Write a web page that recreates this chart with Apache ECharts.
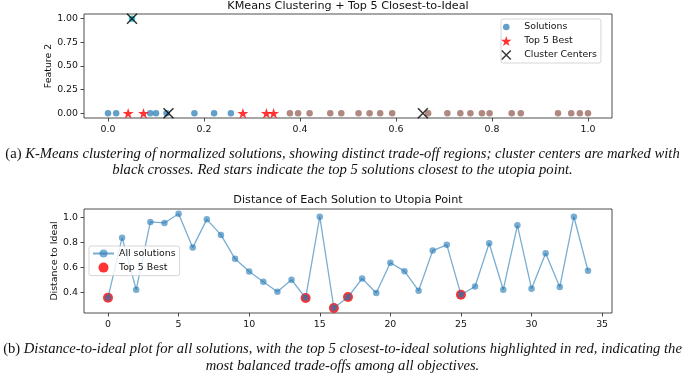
<!DOCTYPE html>
<html><head><meta charset="utf-8">
<script src="https://cdn.jsdelivr.net/npm/echarts@6/dist/echarts.min.js"></script>
<style>html,body{margin:0;padding:0;background:#fff}#c{width:685px;height:379px}</style>
</head><body><div id="c"></div>
<script>
// ---- Data ----
const cluster0X = [0.0, 0.017, 0.088, 0.10, 0.122, 0.18, 0.221, 0.256];
const cluster1X = [0.379, 0.396, 0.42, 0.463, 0.486, 0.522, 0.545, 0.567, 0.592, 0.667, 0.707, 0.734, 0.755, 0.779, 0.795, 0.841, 0.86, 0.9375, 0.965, 0.983, 1.0];
const cluster2Pts = [[0.05, 1.0]];
const top5X = [0.042, 0.074, 0.281, 0.33, 0.345];
const centerPts = [[0.05, 1.0], [0.126, 0.0], [0.656, 0.0]];

const distances = [0.358, 0.84, 0.422, 0.966, 0.958, 1.032, 0.76, 0.987, 0.862, 0.67,
  0.568, 0.486, 0.406, 0.502, 0.355, 1.008, 0.275, 0.363, 0.512, 0.395,
  0.638, 0.571, 0.414, 0.736, 0.782, 0.382, 0.448, 0.795, 0.422, 0.939,
  0.43, 0.715, 0.443, 1.008, 0.574];
const top5Idx = [0, 14, 16, 17, 25];

const topXTicks = [0, 0.2, 0.4, 0.6, 0.8, 1.0];
const topYTicks = [0, 0.25, 0.5, 0.75, 1.0];
const botXTicks = [0, 5, 10, 15, 20, 25, 30, 35];
const botYTicks = [0.4, 0.6, 0.8, 1.0];

const titleTop = 'KMeans Clustering + Top 5 Closest-to-Ideal';
const titleBot = 'Distance of Each Solution to Utopia Point';
const capA1 = ['(a) ', 'K-Means clustering of normalized solutions, showing distinct trade-off regions; cluster centers are marked with'];
const capA2 = 'black crosses. Red stars indicate the top 5 solutions closest to the utopia point.';
const capB1 = ['(b) ', 'Distance-to-ideal plot for all solutions, with the top 5 closest-to-ideal solutions highlighted in red, indicating the'];
const capB2 = 'most balanced trade-offs among all objectives.';

// ---- Styling ----
const SANS = 'DejaVu Sans';
const SERIF = 'Liberation Serif';
const FS = 9.4;
const starPath = 'path://M50,0 L61.23,34.55 L97.55,34.55 L68.16,55.9 L79.39,90.45 L50,69.1 L20.61,90.45 L31.84,55.9 L2.45,34.55 L38.77,34.55 Z';
const xPath = 'path://M0,1 L1,0 L10,9 L9,10 Z M9,0 L10,1 L1,10 L0,9 Z';
const smallCircle = 'path://M0,0 L0.01,0 L0.01,0.01 Z M12,12 L11.99,12 L11.99,11.99 Z M2,6 A4,4 0 1,1 10,6 A4,4 0 1,1 2,6 Z';

function fitSize(parts, target) {
  const ctx = document.createElement('canvas').getContext('2d');
  let w = 0;
  parts.forEach(p => { ctx.font = (p.it ? 'italic ' : '') + '100px "' + SERIF + '"'; w += ctx.measureText(p.t).width; });
  return 100 * target / w;
}
const fsA = fitSize([{t: capA1[0]}, {t: capA1[1], it: true}], 675);
const fsB = fitSize([{t: capB1[0]}, {t: capB1[1], it: true}], 679);

function axisCommon(ticks, fmt, margin) {
  return {
    type: 'value',
    axisLine: {show: false, onZero: false},
    splitLine: {show: false},
    axisTick: {show: true, inside: false, length: 3.5, customValues: ticks, lineStyle: {color: '#222', width: 0.8}},
    axisLabel: {customValues: ticks, formatter: fmt, fontFamily: SANS, fontSize: FS, color: '#111', margin: margin}
  };
}

const chart = echarts.init(document.getElementById('c'));
const nameStyle = {fontFamily: SANS, fontSize: FS, color: '#111'};

chart.setOption({
  animation: false,
  backgroundColor: '#fff',
  title: [
    {text: titleTop, left: 348, top: 1, textAlign: 'center', padding: 0,
     textStyle: {fontFamily: SANS, fontSize: 11.2, fontWeight: 'normal', color: '#111'}},
    {text: titleBot, left: 348, top: 195, textAlign: 'center', padding: 0,
     textStyle: {fontFamily: SANS, fontSize: 11.2, fontWeight: 'normal', color: '#111'}}
  ],
  grid: [
    {left: 84, top: 14, width: 528, height: 104, show: true, borderColor: '#222', borderWidth: 0.8, backgroundColor: 'transparent', outerBoundsMode: 'none'},
    {left: 84, top: 209, width: 528, height: 104, show: true, borderColor: '#222', borderWidth: 0.8, backgroundColor: 'transparent', outerBoundsMode: 'none'}
  ],
  xAxis: [
    Object.assign(axisCommon(topXTicks, v => v.toFixed(1), 7), {gridIndex: 0, position: 'bottom', min: -0.05, max: 1.05}),
    Object.assign(axisCommon(botXTicks, v => String(v), 7), {gridIndex: 1, position: 'bottom', min: -1.7, max: 35.7})
  ],
  yAxis: [
    Object.assign(axisCommon(topYTicks, v => v.toFixed(2), 6), {gridIndex: 0, position: 'left', min: -0.05, max: 1.05,
      name: 'Feature 2', nameLocation: 'middle', nameGap: 31, nameMoveOverlap: false, nameTextStyle: nameStyle}),
    Object.assign(axisCommon(botYTicks, v => v.toFixed(1), 6), {gridIndex: 1, position: 'left', min: 0.235, max: 1.07,
      name: 'Distance to Ideal', nameLocation: 'middle', nameGap: 25, nameMoveOverlap: false, nameTextStyle: nameStyle})
  ],
  legend: [
    {orient: 'vertical', left: 501, top: 19, itemWidth: 26, itemHeight: 10, itemGap: 4,
     padding: [3, 4, 3, 0], borderColor: '#ccc', borderWidth: 0.8, borderRadius: 2, selectedMode: false,
     backgroundColor: 'rgba(255,255,255,0.8)',
     textStyle: {fontFamily: SANS, fontSize: FS, color: '#111'},
     data: [{name: 'Solutions', icon: smallCircle}, {name: 'Top 5 Best', icon: starPath}, {name: 'Cluster Centers', icon: xPath}]},
    {orient: 'vertical', left: 89, top: 246, itemWidth: 21, itemHeight: 10, itemGap: 4.6,
     padding: [3, 4, 3, 3], borderColor: '#ccc', borderWidth: 0.8, borderRadius: 2, selectedMode: false,
     backgroundColor: 'rgba(255,255,255,0.8)',
     textStyle: {fontFamily: SANS, fontSize: FS, color: '#111'},
     data: [{name: 'All solutions'}, {name: 'Top 5 Best ', icon: 'circle'}]}
  ],
  series: [
    {name: 'Solutions', type: 'scatter', xAxisIndex: 0, yAxisIndex: 0, symbol: 'circle', symbolSize: 6.5,
     itemStyle: {color: '#1f77b4', opacity: 0.7}, data: cluster0X.map(x => [x, 0])},
    {name: 'cluster1', type: 'scatter', xAxisIndex: 0, yAxisIndex: 0, symbol: 'circle', symbolSize: 6.5,
     itemStyle: {color: '#8c564b', opacity: 0.7}, data: cluster1X.map(x => [x, 0])},
    {name: 'cluster2', type: 'scatter', xAxisIndex: 0, yAxisIndex: 0, symbol: 'circle', symbolSize: 6.5,
     itemStyle: {color: '#17becf', opacity: 0.8}, data: cluster2Pts},
    {name: 'Top 5 Best', type: 'scatter', xAxisIndex: 0, yAxisIndex: 0, symbol: starPath, symbolSize: [11, 10.5],
     itemStyle: {color: '#ff0000'}, data: top5X.map(x => [x, 0])},
    {name: 'Cluster Centers', type: 'scatter', xAxisIndex: 0, yAxisIndex: 0, symbol: xPath, symbolSize: 11,
     itemStyle: {color: '#000'}, data: centerPts},
    {name: 'Top 5 Best ', type: 'scatter', xAxisIndex: 1, yAxisIndex: 1, symbol: 'circle', symbolSize: 10,
     itemStyle: {color: '#ff0000'}, data: top5Idx.map(i => [i, distances[i]])},
    {name: 'All solutions', type: 'line', xAxisIndex: 1, yAxisIndex: 1, symbol: 'circle', symbolSize: 6.5, showSymbol: true,
     itemStyle: {color: '#1f77b4', opacity: 0.6}, lineStyle: {color: '#1f77b4', width: 1.3, opacity: 0.6},
     data: distances.map((v, i) => [i, v])}
  ],
  graphic: [
    {type: 'text', x: 342.5, y: 154, style: {text: '{u|' + capA1[0] + '}{i|' + capA1[1] + '}', align: 'center', verticalAlign: 'middle',
      rich: {u: {fontFamily: SERIF, fontSize: fsA, fill: '#111'}, i: {fontFamily: SERIF, fontSize: fsA, fontStyle: 'italic', fill: '#111'}}}},
    {type: 'text', x: 342.5, y: 170, style: {text: capA2, align: 'center', verticalAlign: 'middle',
      fontFamily: SERIF, fontSize: fsA, fontStyle: 'italic', fill: '#111'}},
    {type: 'text', x: 342.5, y: 349, style: {text: '{u|' + capB1[0] + '}{i|' + capB1[1] + '}', align: 'center', verticalAlign: 'middle',
      rich: {u: {fontFamily: SERIF, fontSize: fsB, fill: '#111'}, i: {fontFamily: SERIF, fontSize: fsB, fontStyle: 'italic', fill: '#111'}}}},
    {type: 'text', x: 342.5, y: 366, style: {text: capB2, align: 'center', verticalAlign: 'middle',
      fontFamily: SERIF, fontSize: fsB, fontStyle: 'italic', fill: '#111'}}
  ]
});
</script></body></html>
